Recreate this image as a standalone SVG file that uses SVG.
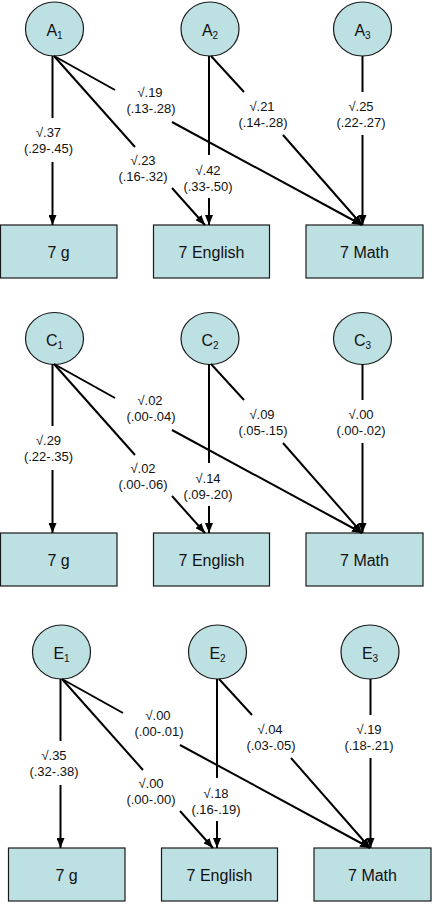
<svg xmlns="http://www.w3.org/2000/svg" width="432" height="904" viewBox="0 0 432 904">
<style>
.n{fill:#bde0e3;stroke:#1a1a1a;stroke-width:1.2}
.nt{font-family:"Liberation Sans",Arial,sans-serif;font-size:16px;fill:#111;text-anchor:middle}
.c{fill:none;stroke:#000;stroke-width:2}
.l{font-family:"Liberation Sans",Arial,sans-serif;font-size:13px;fill:#111;text-anchor:middle}
</style>
<defs>
<marker id="ah" viewBox="0 0 10 8" refX="10" refY="4" markerWidth="10" markerHeight="8" markerUnits="userSpaceOnUse" orient="auto"><path d="M0,0 L10,4 L0,8 z" fill="#000"/></marker>
</defs>
<rect width="432" height="904" fill="#fff"/>

<!-- Panel A -->
<g id="A1"><ellipse class="n" cx="54.5" cy="29" rx="29" ry="27"/><text class="nt" x="54.5" y="36">A<tspan font-size="10" dy="3">1</tspan></text></g>
<g id="A2"><ellipse class="n" cx="210" cy="29" rx="29" ry="27"/><text class="nt" x="210" y="36">A<tspan font-size="10" dy="3">2</tspan></text></g>
<g id="A3"><ellipse class="n" cx="362.5" cy="29" rx="29" ry="27"/><text class="nt" x="362.5" y="36">A<tspan font-size="10" dy="3">3</tspan></text></g>
<g id="A_7g"><rect class="n" x="0.5" y="225" width="116.5" height="53"/><text class="nt" x="58.5" y="257.5">7 g</text></g>
<g id="A_7English"><rect class="n" x="153.5" y="225" width="116" height="53"/><text class="nt" x="211.5" y="257.5">7 English</text></g>
<g id="A_7Math"><rect class="n" x="306" y="225" width="117" height="53"/><text class="nt" x="364.5" y="257.5">7 Math</text></g>

<!-- Panel C -->
<g id="C1"><ellipse class="n" cx="54.5" cy="338.5" rx="29" ry="26"/><text class="nt" x="54.5" y="346">C<tspan font-size="10" dy="3">1</tspan></text></g>
<g id="C2"><ellipse class="n" cx="210" cy="338.5" rx="29" ry="26"/><text class="nt" x="210" y="346">C<tspan font-size="10" dy="3">2</tspan></text></g>
<g id="C3"><ellipse class="n" cx="362.5" cy="338.5" rx="29" ry="26"/><text class="nt" x="362.5" y="346">C<tspan font-size="10" dy="3">3</tspan></text></g>
<g id="C_7g"><rect class="n" x="0.5" y="533" width="116.5" height="53"/><text class="nt" x="58.5" y="565.5">7 g</text></g>
<g id="C_7English"><rect class="n" x="153.5" y="533" width="116" height="53"/><text class="nt" x="211.5" y="565.5">7 English</text></g>
<g id="C_7Math"><rect class="n" x="306" y="533" width="117" height="53"/><text class="nt" x="364.5" y="565.5">7 Math</text></g>

<!-- Panel E -->
<g id="E1"><ellipse class="n" cx="61.5" cy="652" rx="29" ry="27"/><text class="nt" x="61.5" y="659">E<tspan font-size="10" dy="3">1</tspan></text></g>
<g id="E2"><ellipse class="n" cx="217.5" cy="652" rx="29" ry="27"/><text class="nt" x="217.5" y="659">E<tspan font-size="10" dy="3">2</tspan></text></g>
<g id="E3"><ellipse class="n" cx="370" cy="652" rx="29" ry="27"/><text class="nt" x="370" y="659">E<tspan font-size="10" dy="3">3</tspan></text></g>
<g id="E_7g"><rect class="n" x="8.5" y="848" width="116.5" height="53"/><text class="nt" x="66.5" y="880.5">7 g</text></g>
<g id="E_7English"><rect class="n" x="161.5" y="848" width="116" height="53"/><text class="nt" x="219.5" y="880.5">7 English</text></g>
<g id="E_7Math"><rect class="n" x="314" y="848" width="117" height="53"/><text class="nt" x="372.5" y="880.5">7 Math</text></g>

<g id="connectors">
<g id="conn-A">
<path class="c" d="M52.5,56 V118"/><path class="c" d="M52.5,162 V225" marker-end="url(#ah)"/>
<path class="c" d="M54,56 L135,147"/><path class="c" d="M172,188 L205,225" marker-end="url(#ah)"/>
<path class="c" d="M54,56 L115,90"/><path class="c" d="M172,122 L362,225" marker-end="url(#ah)"/>
<path class="c" d="M209,56 V155"/><path class="c" d="M209,198 V225" marker-end="url(#ah)"/>
<path class="c" d="M211,56 L244,92"/><path class="c" d="M283,135 L362,225" marker-end="url(#ah)"/>
<path class="c" d="M362.5,56 V92"/><path class="c" d="M362.5,135 V225" marker-end="url(#ah)"/>
<text class="l" x="48.5" y="137">√.37</text><text class="l" x="48.5" y="152.7">(.29-.45)</text>
<text class="l" x="150" y="97">√.19</text><text class="l" x="151" y="112.8">(.13-.28)</text>
<text class="l" x="262" y="111.2">√.21</text><text class="l" x="263" y="127.2">(.14-.28)</text>
<text class="l" x="361" y="111.2">√.25</text><text class="l" x="361" y="127.2">(.22-.27)</text>
<text class="l" x="143" y="164.5">√.23</text><text class="l" x="143" y="180.5">(.16-.32)</text>
<text class="l" x="208" y="174.5">√.42</text><text class="l" x="208" y="190.5">(.33-.50)</text>
</g>
<g id="conn-C" transform="translate(0,308)">
<path class="c" d="M52.5,56 V118"/><path class="c" d="M52.5,162 V225" marker-end="url(#ah)"/>
<path class="c" d="M54,56 L135,147"/><path class="c" d="M172,188 L205,225" marker-end="url(#ah)"/>
<path class="c" d="M54,56 L115,90"/><path class="c" d="M172,122 L362,225" marker-end="url(#ah)"/>
<path class="c" d="M209,56 V155"/><path class="c" d="M209,198 V225" marker-end="url(#ah)"/>
<path class="c" d="M211,56 L244,92"/><path class="c" d="M283,135 L362,225" marker-end="url(#ah)"/>
<path class="c" d="M362.5,56 V92"/><path class="c" d="M362.5,135 V225" marker-end="url(#ah)"/>
<text class="l" x="48.5" y="137">√.29</text><text class="l" x="48.5" y="152.7">(.22-.35)</text>
<text class="l" x="150" y="97">√.02</text><text class="l" x="151" y="112.8">(.00-.04)</text>
<text class="l" x="262" y="111.2">√.09</text><text class="l" x="263" y="127.2">(.05-.15)</text>
<text class="l" x="361" y="111.2">√.00</text><text class="l" x="361" y="127.2">(.00-.02)</text>
<text class="l" x="143" y="164.5">√.02</text><text class="l" x="143" y="180.5">(.00-.06)</text>
<text class="l" x="208" y="174.5">√.14</text><text class="l" x="208" y="190.5">(.09-.20)</text>
</g>
<g id="conn-E" transform="translate(8,623)">
<path class="c" d="M52.5,56 V118"/><path class="c" d="M52.5,162 V225" marker-end="url(#ah)"/>
<path class="c" d="M54,56 L135,147"/><path class="c" d="M172,188 L205,225" marker-end="url(#ah)"/>
<path class="c" d="M54,56 L115,90"/><path class="c" d="M172,122 L362,225" marker-end="url(#ah)"/>
<path class="c" d="M209,56 V155"/><path class="c" d="M209,198 V225" marker-end="url(#ah)"/>
<path class="c" d="M211,56 L244,92"/><path class="c" d="M283,135 L362,225" marker-end="url(#ah)"/>
<path class="c" d="M362.5,56 V92"/><path class="c" d="M362.5,135 V225" marker-end="url(#ah)"/>
<text class="l" x="46" y="137">√.35</text><text class="l" x="46" y="152.7">(.32-.38)</text>
<text class="l" x="150" y="97">√.00</text><text class="l" x="151" y="112.8">(.00-.01)</text>
<text class="l" x="262" y="111.2">√.04</text><text class="l" x="263" y="127.2">(.03-.05)</text>
<text class="l" x="361" y="111.2">√.19</text><text class="l" x="361" y="127.2">(.18-.21)</text>
<text class="l" x="143" y="164.5">√.00</text><text class="l" x="143" y="180.5">(.00-.00)</text>
<text class="l" x="208" y="174.5">√.18</text><text class="l" x="208" y="190.5">(.16-.19)</text>
</g>
</g>
</svg>
